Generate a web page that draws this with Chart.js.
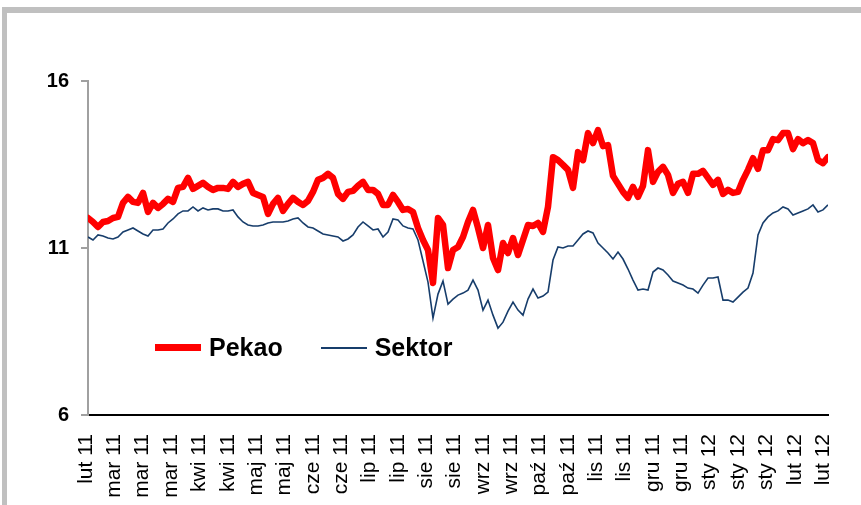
<!DOCTYPE html>
<html>
<head>
<meta charset="utf-8">
<script src="https://cdn.jsdelivr.net/npm/chart.js@4/dist/chart.umd.min.js"></script>
<style>
  html, body { margin: 0; padding: 0; background: #fff; }
  #wrap { position: relative; width: 861px; height: 505px; overflow: hidden; }
  #frame {
    position: absolute; left: 2px; top: 7px; right: -10px; bottom: -10px;
    border-top: 6px solid #c0c0c0; border-left: 5px solid #c0c0c0;
    pointer-events: none;
  }
  #legend {
    position: absolute; left: 155px; top: 333px;
    font: bold 25px "Liberation Sans", Arial, sans-serif; color: #000;
    display: flex; align-items: center; white-space: nowrap;
  }
  .swatch { display: inline-block; width: 46px; margin-right: 8px; }
  .item { display: flex; align-items: center; margin-right: 38px; }
</style>
</head>
<body>
<div id="wrap">
  <canvas id="myChart" width="861" height="505"></canvas>
  <div id="frame"></div>
  <div id="legend">
    <span class="item"><span class="swatch" style="height:7px;background:#ff0000"></span>Pekao</span>
    <span class="item"><span class="swatch" style="height:2px;background:#173d6b"></span>Sektor</span>
  </div>
</div>
<script>
// Tick labels shown along the x axis (roughly every two weeks)
const tickLabels = [
  "lut 11", "mar 11", "mar 11", "mar 11", "kwi 11", "kwi 11", "maj 11", "maj 11",
  "cze 11", "cze 11", "lip 11", "lip 11", "sie 11", "sie 11", "wrz 11", "wrz 11",
  "paź 11", "paź 11", "lis 11", "lis 11", "gru 11", "gru 11", "sty 12", "sty 12",
  "sty 12", "lut 12", "lut 12"
];

// Pekao share price (sampled along the period)
const pekao = [
  11.90, 11.78, 11.63, 11.78, 11.81, 11.90, 11.93, 12.35, 12.53, 12.38,
  12.35, 12.65, 12.08, 12.35, 12.20, 12.32, 12.47, 12.38, 12.80, 12.83,
  13.10, 12.77, 12.86, 12.95, 12.83, 12.74, 12.80, 12.80, 12.77, 12.98,
  12.83, 12.92, 12.98, 12.65, 12.59, 12.53, 12.02, 12.32, 12.50, 12.11,
  12.32, 12.50, 12.38, 12.29, 12.41, 12.68, 13.04, 13.10, 13.22, 13.10,
  12.62, 12.47, 12.68, 12.71, 12.86, 12.98, 12.74, 12.74, 12.62, 12.29,
  12.29, 12.59, 12.38, 12.14, 12.17, 12.08, 11.60, 11.24, 10.94, 9.95,
  11.90, 11.69, 10.40, 10.94, 11.03, 11.33, 11.78, 12.14, 11.60, 11.00,
  11.69, 10.70, 10.34, 11.15, 10.85, 11.30, 10.79, 11.24, 11.69, 11.66,
  11.75, 11.48, 12.23, 13.72, 13.63, 13.49, 13.34, 12.80, 13.87, 13.63,
  14.44, 14.14, 14.53, 14.05, 14.08, 13.16, 12.92, 12.68, 12.50, 12.83,
  12.53, 12.86, 13.93, 12.98, 13.28, 13.43, 13.19, 12.65, 12.92, 12.98,
  12.65, 13.22, 13.22, 13.31, 13.10, 12.89, 13.04, 12.62, 12.74, 12.65,
  12.68, 13.04, 13.34, 13.69, 13.37, 13.93, 13.93, 14.26, 14.23, 14.44,
  14.44, 13.96, 14.26, 14.14, 14.23, 14.14, 13.63, 13.54, 13.72
];

// Sector index (rescaled, same sampling)
const sektor = [
  11.33, 11.24, 11.39, 11.36, 11.30, 11.27, 11.33, 11.48, 11.54, 11.60,
  11.51, 11.42, 11.36, 11.54, 11.54, 11.57, 11.75, 11.87, 12.02, 12.11,
  12.11, 12.23, 12.11, 12.20, 12.14, 12.17, 12.17, 12.11, 12.11, 12.14,
  11.93, 11.78, 11.69, 11.66, 11.66, 11.69, 11.75, 11.78, 11.78, 11.78,
  11.81, 11.87, 11.90, 11.75, 11.63, 11.60, 11.51, 11.42, 11.39, 11.36,
  11.33, 11.21, 11.27, 11.39, 11.63, 11.78, 11.66, 11.54, 11.57, 11.33,
  11.48, 11.87, 11.84, 11.66, 11.60, 11.57, 11.24, 10.61, 9.98, 8.90,
  9.62, 10.01, 9.32, 9.47, 9.59, 9.65, 9.74, 10.04, 9.74, 9.14,
  9.44, 8.99, 8.60, 8.78, 9.11, 9.38, 9.14, 8.99, 9.47, 9.77,
  9.50, 9.56, 9.68, 10.64, 11.03, 11.00, 11.06, 11.06, 11.24, 11.42,
  11.51, 11.45, 11.15, 11.00, 10.85, 10.67, 10.88, 10.67, 10.37, 10.04,
  9.74, 9.77, 9.74, 10.28, 10.40, 10.34, 10.19, 10.01, 9.95, 9.89,
  9.80, 9.77, 9.65, 9.89, 10.10, 10.10, 10.13, 9.44, 9.44, 9.38,
  9.53, 9.68, 9.80, 10.25, 11.39, 11.75, 11.93, 12.05, 12.11, 12.23,
  12.17, 11.99, 12.05, 12.11, 12.17, 12.29, 12.08, 12.14, 12.29
];

const lastIndex = pekao.length - 1;
const toPoints = (arr) => arr.map((v, i) => ({ x: i, y: v }));

// where the first label sits and how far apart they are (in sample units)
const tickStart = -0.4;
const tickStep = 5.67;

const ctx = document.getElementById("myChart").getContext("2d");
const myChart = new Chart(ctx, {
  type: "line",
  data: {
    datasets: [
      {
        label: "Pekao",
        data: toPoints(pekao),
        borderColor: "#ff0000",
        backgroundColor: "#ff0000",
        borderWidth: 6.5,
        borderJoinStyle: "round",
        borderCapStyle: "round",
        pointRadius: 0,
        tension: 0,
      },
      {
        label: "Sektor",
        data: toPoints(sektor),
        borderColor: "#173d6b",
        backgroundColor: "#173d6b",
        borderWidth: 1.6,
        pointRadius: 0,
        tension: 0,
      },
    ],
  },
  options: {
    responsive: false,
    animation: false,
    events: [],
    layout: {
      padding: { top: 81, right: 33, bottom: 0, left: 0 },
    },
    scales: {
      x: {
        type: "linear",
        min: 0,
        max: lastIndex,
        afterBuildTicks: (scale) => {
          scale.ticks = tickLabels.map((_, k) => ({ value: tickStart + k * tickStep }));
        },
        afterFit: (scale) => {
          scale.height = 90;
          // don't let the rotated labels push the plot edges in
          scale.paddingLeft = 0;
          scale.paddingRight = 0;
        },
        grid: { display: false, drawTicks: false },
        border: { display: true, color: "#000", width: 2 },
        ticks: {
          autoSkip: false,
          minRotation: 90,
          maxRotation: 90,
          padding: 19,
          color: "#000",
          font: { family: "'Liberation Sans', Arial", size: 21 },
          callback: (value, index) => tickLabels[index],
        },
      },
      y: {
        min: 6,
        max: 16,
        afterFit: (scale) => {
          scale.width = 88;
        },
        grid: {
          drawOnChartArea: false,
          drawTicks: true,
          tickLength: 7,
          color: "#a0a0a0",
          lineWidth: 2,
        },
        border: { display: true, color: "#a0a0a0", width: 2 },
        ticks: {
          stepSize: 5,
          padding: 12,
          color: "#000",
          font: { family: "'Liberation Sans', Arial", size: 20, weight: "bold" },
        },
      },
    },
    plugins: {
      // legend is drawn in html inside the plot
      legend: { display: false },
      tooltip: { enabled: false },
    },
  },
});
</script>
</body>
</html>
